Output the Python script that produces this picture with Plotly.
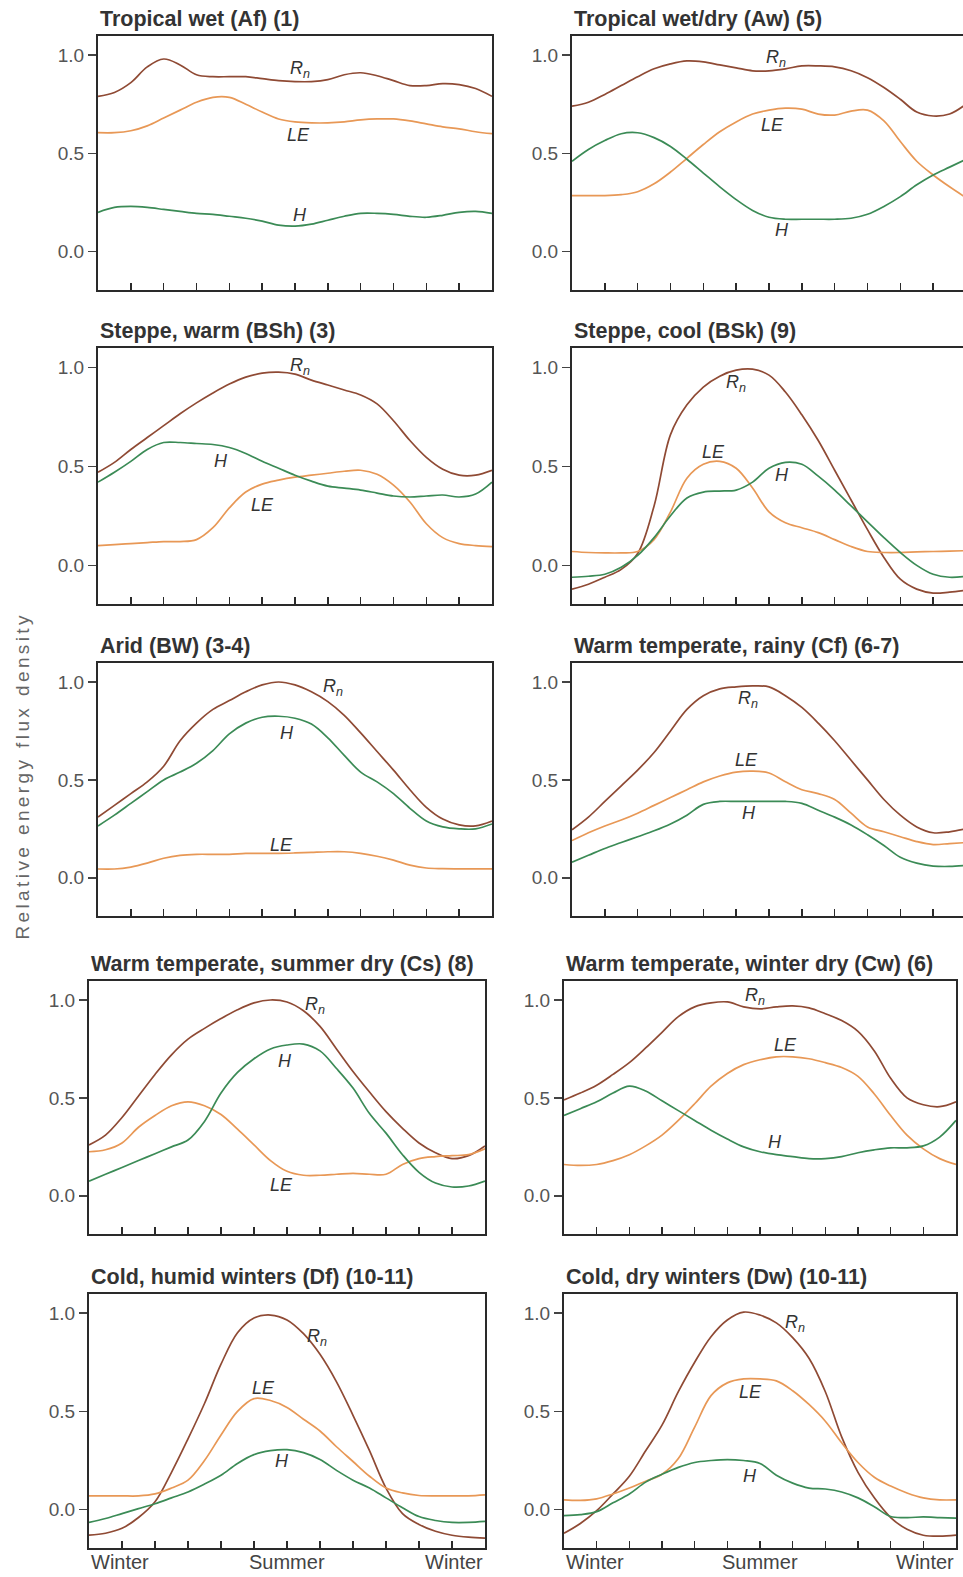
import plotly.graph_objects as go

# ---------------- data ----------------
x_pos = [0, 0.5, 1, 1.5, 2, 2.5, 3, 3.5, 4, 4.5, 5, 5.5, 6, 6.5, 7, 7.5, 8, 8.5, 9, 9.5, 10, 10.5, 11, 11.5, 12]

titles = [
    "Tropical wet (Af) (1)", "Tropical wet/dry (Aw) (5)",
    "Steppe, warm (BSh) (3)", "Steppe, cool (BSk) (9)",
    "Arid (BW) (3-4)", "Warm temperate, rainy (Cf) (6-7)",
    "Warm temperate, summer dry (Cs) (8)", "Warm temperate, winter dry (Cw) (6)",
    "Cold, humid winters (Df) (10-11)", "Cold, dry winters (Dw) (10-11)",
]

af_rn = [0.79, 0.81, 0.86, 0.94, 0.98, 0.95, 0.90, 0.89, 0.89, 0.89, 0.88, 0.87, 0.865, 0.865, 0.875, 0.90, 0.91, 0.895, 0.87, 0.845, 0.845, 0.855, 0.85, 0.83, 0.79]
af_le = [0.605, 0.605, 0.615, 0.64, 0.68, 0.72, 0.76, 0.785, 0.785, 0.75, 0.71, 0.675, 0.66, 0.655, 0.655, 0.66, 0.67, 0.675, 0.675, 0.665, 0.65, 0.635, 0.625, 0.61, 0.60]
af_h = [0.20, 0.225, 0.23, 0.225, 0.215, 0.205, 0.195, 0.19, 0.18, 0.17, 0.155, 0.135, 0.13, 0.14, 0.16, 0.18, 0.195, 0.195, 0.19, 0.18, 0.175, 0.185, 0.20, 0.205, 0.195]

aw_rn = [0.74, 0.76, 0.80, 0.845, 0.89, 0.93, 0.955, 0.97, 0.965, 0.95, 0.935, 0.92, 0.92, 0.93, 0.945, 0.945, 0.94, 0.92, 0.885, 0.835, 0.775, 0.71, 0.69, 0.70, 0.75]
aw_le = [0.285, 0.285, 0.285, 0.29, 0.305, 0.345, 0.405, 0.475, 0.545, 0.61, 0.66, 0.70, 0.72, 0.73, 0.725, 0.70, 0.695, 0.715, 0.72, 0.665, 0.56, 0.46, 0.39, 0.33, 0.275]
aw_h = [0.46, 0.52, 0.565, 0.60, 0.605, 0.58, 0.535, 0.47, 0.40, 0.33, 0.265, 0.21, 0.175, 0.165, 0.165, 0.165, 0.165, 0.17, 0.19, 0.23, 0.28, 0.34, 0.39, 0.43, 0.47]

bsh_rn = [0.47, 0.52, 0.585, 0.645, 0.705, 0.765, 0.82, 0.87, 0.915, 0.95, 0.97, 0.975, 0.965, 0.935, 0.91, 0.885, 0.86, 0.815, 0.73, 0.63, 0.545, 0.485, 0.455, 0.455, 0.48]
bsh_le = [0.10, 0.105, 0.11, 0.115, 0.12, 0.12, 0.13, 0.19, 0.29, 0.37, 0.41, 0.43, 0.445, 0.455, 0.465, 0.475, 0.48, 0.46, 0.405, 0.32, 0.21, 0.14, 0.11, 0.10, 0.095]
bsh_h = [0.42, 0.47, 0.525, 0.585, 0.62, 0.62, 0.615, 0.61, 0.595, 0.565, 0.525, 0.49, 0.455, 0.425, 0.40, 0.39, 0.38, 0.365, 0.35, 0.345, 0.35, 0.355, 0.345, 0.36, 0.42]

bsk_rn = [-0.12, -0.095, -0.06, -0.02, 0.06, 0.30, 0.66, 0.81, 0.90, 0.955, 0.985, 0.99, 0.96, 0.875, 0.76, 0.63, 0.48, 0.33, 0.18, 0.04, -0.07, -0.12, -0.14, -0.135, -0.125]
bsk_le = [0.07, 0.065, 0.063, 0.063, 0.07, 0.13, 0.27, 0.44, 0.51, 0.525, 0.49, 0.39, 0.27, 0.215, 0.19, 0.165, 0.13, 0.095, 0.07, 0.065, 0.065, 0.068, 0.07, 0.072, 0.074]
bsk_h = [-0.06, -0.055, -0.045, -0.01, 0.05, 0.14, 0.25, 0.34, 0.37, 0.375, 0.38, 0.42, 0.49, 0.52, 0.51, 0.45, 0.38, 0.30, 0.22, 0.14, 0.065, 0.0, -0.045, -0.06, -0.055]

bw_rn = [0.31, 0.37, 0.43, 0.49, 0.57, 0.70, 0.79, 0.86, 0.905, 0.95, 0.985, 1.0, 0.985, 0.95, 0.90, 0.83, 0.74, 0.645, 0.55, 0.45, 0.36, 0.30, 0.27, 0.265, 0.29]
bw_le = [0.045, 0.045, 0.055, 0.075, 0.10, 0.115, 0.12, 0.12, 0.12, 0.125, 0.125, 0.125, 0.127, 0.13, 0.133, 0.133, 0.125, 0.11, 0.09, 0.065, 0.05, 0.047, 0.046, 0.046, 0.046]
bw_h = [0.265, 0.32, 0.38, 0.44, 0.50, 0.54, 0.585, 0.65, 0.735, 0.79, 0.82, 0.825, 0.815, 0.785, 0.715, 0.625, 0.54, 0.49, 0.43, 0.355, 0.29, 0.26, 0.25, 0.25, 0.275]

cf_rn = [0.245, 0.31, 0.39, 0.47, 0.55, 0.64, 0.75, 0.86, 0.93, 0.965, 0.975, 0.98, 0.975, 0.93, 0.87, 0.79, 0.70, 0.60, 0.50, 0.40, 0.32, 0.26, 0.23, 0.235, 0.25]
cf_le = [0.19, 0.23, 0.265, 0.295, 0.33, 0.37, 0.41, 0.45, 0.49, 0.52, 0.54, 0.545, 0.535, 0.49, 0.45, 0.43, 0.40, 0.33, 0.26, 0.235, 0.21, 0.185, 0.17, 0.175, 0.18]
cf_h = [0.08, 0.115, 0.15, 0.18, 0.21, 0.24, 0.275, 0.32, 0.375, 0.39, 0.39, 0.39, 0.39, 0.39, 0.38, 0.345, 0.31, 0.27, 0.22, 0.165, 0.105, 0.075, 0.06, 0.058, 0.063]

cs_rn = [0.26, 0.31, 0.40, 0.51, 0.62, 0.72, 0.80, 0.855, 0.905, 0.95, 0.985, 1.0, 0.99, 0.945, 0.865, 0.75, 0.635, 0.53, 0.43, 0.345, 0.27, 0.22, 0.19, 0.205, 0.255]
cs_le = [0.225, 0.235, 0.27, 0.35, 0.41, 0.46, 0.48, 0.46, 0.415, 0.34, 0.26, 0.18, 0.125, 0.105, 0.105, 0.11, 0.115, 0.11, 0.11, 0.16, 0.19, 0.20, 0.205, 0.21, 0.24]
cs_h = [0.075, 0.11, 0.145, 0.18, 0.215, 0.25, 0.285, 0.38, 0.525, 0.63, 0.70, 0.75, 0.77, 0.775, 0.74, 0.65, 0.55, 0.42, 0.32, 0.21, 0.12, 0.065, 0.045, 0.05, 0.075]

cw_rn = [0.49, 0.525, 0.565, 0.62, 0.68, 0.755, 0.835, 0.915, 0.965, 0.985, 0.99, 0.965, 0.955, 0.965, 0.97, 0.96, 0.93, 0.895, 0.84, 0.74, 0.60, 0.50, 0.465, 0.455, 0.48]
cw_le = [0.16, 0.155, 0.16, 0.18, 0.21, 0.255, 0.31, 0.385, 0.47, 0.56, 0.625, 0.67, 0.695, 0.71, 0.71, 0.70, 0.68, 0.655, 0.61, 0.52, 0.41, 0.31, 0.24, 0.19, 0.16]
cw_h = [0.41, 0.445, 0.48, 0.525, 0.56, 0.535, 0.485, 0.435, 0.385, 0.335, 0.29, 0.25, 0.225, 0.21, 0.20, 0.19, 0.19, 0.20, 0.22, 0.235, 0.245, 0.245, 0.255, 0.30, 0.385]

df_rn = [-0.13, -0.12, -0.095, -0.04, 0.04, 0.19, 0.36, 0.54, 0.74, 0.90, 0.975, 0.99, 0.965, 0.895, 0.79, 0.65, 0.48, 0.30, 0.11, -0.02, -0.075, -0.11, -0.13, -0.14, -0.145]
df_le = [0.07, 0.07, 0.07, 0.07, 0.08, 0.11, 0.15, 0.25, 0.38, 0.50, 0.565, 0.555, 0.52, 0.46, 0.40, 0.32, 0.245, 0.17, 0.11, 0.085, 0.072, 0.07, 0.07, 0.07, 0.075]
df_h = [-0.065, -0.045, -0.02, 0.005, 0.03, 0.06, 0.09, 0.13, 0.175, 0.235, 0.28, 0.30, 0.305, 0.29, 0.255, 0.20, 0.15, 0.11, 0.06, 0.01, -0.035, -0.055, -0.065, -0.065, -0.06]

dw_rn = [-0.12, -0.07, -0.005, 0.08, 0.17, 0.30, 0.43, 0.60, 0.75, 0.88, 0.965, 1.005, 0.99, 0.95, 0.875, 0.77, 0.60, 0.37, 0.19, 0.06, -0.04, -0.10, -0.13, -0.135, -0.13]
dw_le = [0.05, 0.047, 0.055, 0.08, 0.11, 0.145, 0.18, 0.26, 0.42, 0.58, 0.645, 0.665, 0.665, 0.655, 0.605, 0.535, 0.45, 0.34, 0.24, 0.165, 0.12, 0.085, 0.06, 0.05, 0.05]
dw_h = [-0.03, -0.025, -0.01, 0.035, 0.08, 0.14, 0.18, 0.215, 0.24, 0.25, 0.255, 0.25, 0.235, 0.175, 0.135, 0.11, 0.105, 0.09, 0.06, 0.015, -0.035, -0.04, -0.037, -0.04, -0.043]

rn_series = [af_rn, aw_rn, bsh_rn, bsk_rn, bw_rn, cf_rn, cs_rn, cw_rn, df_rn, dw_rn]
le_series = [af_le, aw_le, bsh_le, bsk_le, bw_le, cf_le, cs_le, cw_le, df_le, dw_le]
h_series = [af_h, aw_h, bsh_h, bsk_h, bw_h, cf_h, cs_h, cw_h, df_h, dw_h]

y_tick_vals = [0, 0.5, 1.0]
y_tick_text = ["0.0", "0.5", "1.0"]
x_tick_vals = [1, 2, 3, 4, 5, 6, 7, 8, 9, 10, 11]
season_labels = ["Winter", "Summer", "Winter"]

# curve label positions (x, y) per panel
rn_label_pos = [(6.15, 0.925), (6.2, 0.98), (6.15, 1.005), (5.0, 0.92), (7.15, 0.97),
                (5.36, 0.91), (6.85, 0.97), (5.85, 1.02), (6.9, 0.877), (7.07, 0.945)]
le_label_pos = [(6.1, 0.594), (6.1, 0.645), (5.0, 0.307), (4.3, 0.573), (5.6, 0.17),
                (5.3, 0.60), (5.83, 0.056), (6.77, 0.77), (5.28, 0.62), (5.7, 0.596)]
h_label_pos = [(6.15, 0.187), (6.4, 0.11), (3.76, 0.528), (6.4, 0.455), (5.77, 0.74),
               (5.4, 0.33), (5.93, 0.69), (6.46, 0.276), (5.84, 0.247), (5.7, 0.17)]

# ---------------- layout geometry (pixels) ----------------
W, H = 963, 1577
row_px = [(36, 290), (348, 604), (663, 916), (981, 1234), (1294, 1548)]
col_px = [
    [(98, 492), (572, 966)],
    [(98, 492), (572, 966)],
    [(98, 492), (572, 966)],
    [(89, 485), (564, 956)],
    [(89, 485), (564, 956)],
]
Y_RANGE = [-0.195, 1.097]

C_RN = "#8f4a34"
C_LE = "#e89856"
C_H = "#3b8b56"
FRAME = "#2a2a2a"
FONT = "Liberation Sans, Arial, sans-serif"

fig = go.Figure()
annotations = []

for i in range(10):
    r, c = divmod(i, 2)
    sfx = "" if i == 0 else str(i + 1)
    xa, ya = "x" + sfx, "y" + sfx
    top, bot = row_px[r]
    left, right = col_px[r][c]
    x_end = 12.0
    clipped = right > W
    if clipped:
        x_end = 12.0 * (W - left) / (right - left)
        right = W
    for vals, col in ((rn_series[i], C_RN), (le_series[i], C_LE), (h_series[i], C_H)):
        fig.add_trace(go.Scatter(
            x=x_pos, y=vals, xaxis=xa, yaxis=ya, mode="lines",
            line=dict(color=col, width=1.7, shape="spline", smoothing=1.0),
            showlegend=False, hoverinfo="skip"))
    fig.update_layout(**{
        "xaxis" + sfx: dict(
            domain=[left / W, right / W], range=[0, x_end], anchor=ya,
            tickvals=x_tick_vals, ticks="inside", ticklen=7, tickwidth=1.4,
            tickcolor=FRAME, showticklabels=False, showline=True,
            linecolor=FRAME, linewidth=2, mirror=True, showgrid=False,
            zeroline=False, fixedrange=True),
        "yaxis" + sfx: dict(
            domain=[(H - bot) / H, (H - top) / H], range=Y_RANGE, anchor=xa,
            tickvals=y_tick_vals, ticktext=y_tick_text, ticks="outside",
            ticklen=8, tickwidth=1.4, tickcolor="#444", showline=True,
            linecolor=FRAME, linewidth=2, mirror=not clipped, showgrid=False,
            zeroline=False, fixedrange=True,
            tickfont=dict(family=FONT, size=19, color="#555")),
    })
    # panel title
    annotations.append(dict(
        text="<b>" + titles[i] + "</b>", xref=xa + " domain", yref=ya + " domain",
        x=0, y=1, xanchor="left", yanchor="bottom", yshift=3, showarrow=False,
        font=dict(family=FONT, size=21.5, color="#333")))
    # curve labels
    for txt, pos in (("<i>R<sub>n</sub></i>", rn_label_pos[i]),
                     ("<i>LE</i>", le_label_pos[i]),
                     ("<i>H</i>", h_label_pos[i])):
        annotations.append(dict(
            text=txt, xref=xa, yref=ya, x=pos[0], y=pos[1], showarrow=False,
            font=dict(family=FONT, size=18, color="#333")))
    # season labels on bottom row
    if r == 4:
        for lbl, xv, anc in zip(season_labels, [0, 6, 12], ["left", "center", "right"]):
            annotations.append(dict(
                text=lbl, xref=xa, yref=ya + " domain", x=xv, y=0,
                xanchor=anc, yanchor="top", yshift=-1, showarrow=False,
                font=dict(family=FONT, size=20, color="#444")))

annotations.append(dict(
    text="Relative energy flux density", xref="paper", yref="paper",
    x=22 / W, y=(H - 776) / H, textangle=-90, showarrow=False,
    xanchor="center", yanchor="middle",
    font=dict(family=FONT, size=19, color="#666")))

fig.update_layout(
    width=W, height=H, autosize=False,
    margin=dict(l=0, r=0, t=0, b=0, pad=0),
    paper_bgcolor="white", plot_bgcolor="white",
    annotations=annotations,
)

post = """
document.body.style.margin = '0';
document.body.style.padding = '0';
document.documentElement.style.overflow = 'hidden';
document.querySelectorAll('text.annotation-text').forEach(function(t){
  if (t.textContent.indexOf('Relative energy') === 0) { t.setAttribute('letter-spacing', '3.4px'); }
});
"""
fig.write_html("out.html", post_script=post, config={"displayModeBar": False, "staticPlot": True})
